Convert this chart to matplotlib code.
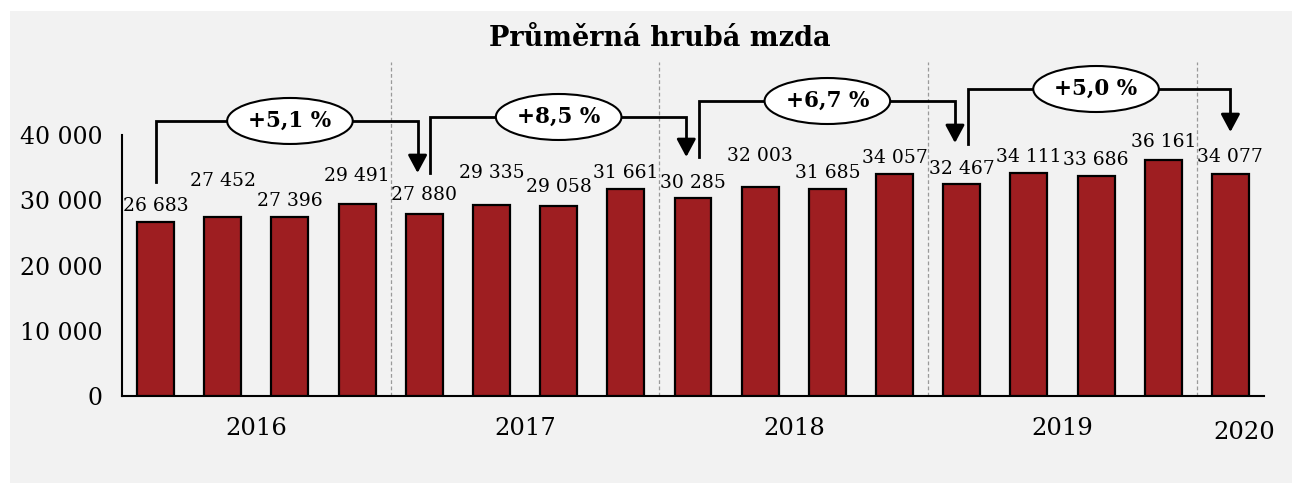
import matplotlib.pyplot as plt
from matplotlib.patches import Ellipse, Rectangle
from matplotlib.ticker import FuncFormatter

# data
values = [26683, 27452, 27396, 29491,
          27880, 29335, 29058, 31661,
          30285, 32003, 31685, 34057,
          32467, 34111, 33686, 36161,
          34077]
years = ["2016", "2017", "2018", "2019", "2020"]
growth = ["+5,1 %", "+8,5 %", "+6,7 %", "+5,0 %"]

# label lift above bar top (data units), as placed in the original
label_lift = [2450, 5500, 2490, 4230, 2930, 4850, 2980, 2520, 2370,
              4790, 2500, 2430, 2330, 2530, 2490, 2780, 2560]
# bracket geometry: start bar, end bar, left leg bottom, top line, arrow tip
brackets = [(0, 4, 32800, 42160, 34190),
            (4, 8, 34190, 42770, 36640),
            (8, 12, 36640, 45220, 38790),
            (12, 16, 38630, 47060, 40470)]

serif = "DejaVu Serif"
plt.rcParams['font.family'] = serif

fig = plt.figure(figsize=(12.92, 4.83), dpi=100)
fig.patch.set_facecolor("white")
fig.patches.append(Rectangle((10 / 1292, 0), 1, (483 - 11) / 483,
                             transform=fig.transFigure, facecolor="#f2f2f2",
                             edgecolor="none", zorder=-10))

ax = fig.add_axes([122 / 1292, 87 / 483, (1264 - 122) / 1292, (396 - 62) / 483])
ax.set_facecolor("none")
ax.set_zorder(2)

x = list(range(len(values)))
ax.bar(x, values, width=0.55, color="#9e1e21", edgecolor="black",
       linewidth=1.6, zorder=3)

for i, v in enumerate(values):
    ax.text(i, v + label_lift[i], f"{v:,}".replace(",", " "),
            ha="center", va="center", fontsize=13.5, zorder=5)

# year separators
for s in [3.5, 7.5, 11.5, 15.5]:
    ax.axvline(s, color="#9a9a9a", lw=0.9, ls=(0, (3, 2)), zorder=1)

# growth brackets
for (a, b, ybot, ytop, ytip), txt in zip(brackets, growth):
    xa = a + (0.0 if a == 0 else 0.09)
    xb = b - (0.0 if b == 16 else 0.1)
    ax.plot([xa, xa, xb, xb], [ybot, ytop, ytop, ytip + 2000], color="black",
            lw=2, solid_joinstyle="miter", zorder=4)
    ax.annotate("", xy=(xb, ytip), xytext=(xb, ytip + 2500),
                arrowprops=dict(arrowstyle="-|>,head_length=0.54,head_width=0.29",
                                mutation_scale=20, lw=2, color="black",
                                shrinkA=0, shrinkB=0), zorder=4)
    cx = (a + b) / 2
    ax.add_patch(Ellipse((cx, ytop), 1.87, 7050, facecolor="white",
                         edgecolor="black", lw=1.5, zorder=6))
    ax.text(cx, ytop, txt, ha="center", va="center", fontsize=15.5,
            fontweight="bold", zorder=7)

ax.set_xlim(-0.5, 16.5)
ax.set_ylim(0, 51200)
ax.set_yticks([0, 10000, 20000, 30000, 40000])
ax.yaxis.set_major_formatter(FuncFormatter(lambda v, p: f"{v:,.0f}".replace(",", " ")))
ax.tick_params(axis="y", length=0, pad=14, labelsize=17)
ax.set_xticks([])
for sp in ["top", "right"]:
    ax.spines[sp].set_visible(False)
ax.spines["left"].set_bounds(0, 40000)
ax.spines["left"].set_linewidth(1.5)
ax.spines["bottom"].set_linewidth(1.5)

year_pos = [1.5, 5.5, 9.5, 13.5, 16.2]
year_y = [-0.096, -0.096, -0.096, -0.096, -0.108]
for xp, yp, yr in zip(year_pos, year_y, years):
    ax.text(xp, yp, yr, transform=ax.get_xaxis_transform(), ha="center",
            va="center", fontsize=17.5)

fig.text(660 / 1292, 1 - 38 / 483, "Průměrná hrubá mzda", ha="center",
         va="center", fontsize=19.5, fontweight="bold")

fig.savefig("out.png", dpi=100)
